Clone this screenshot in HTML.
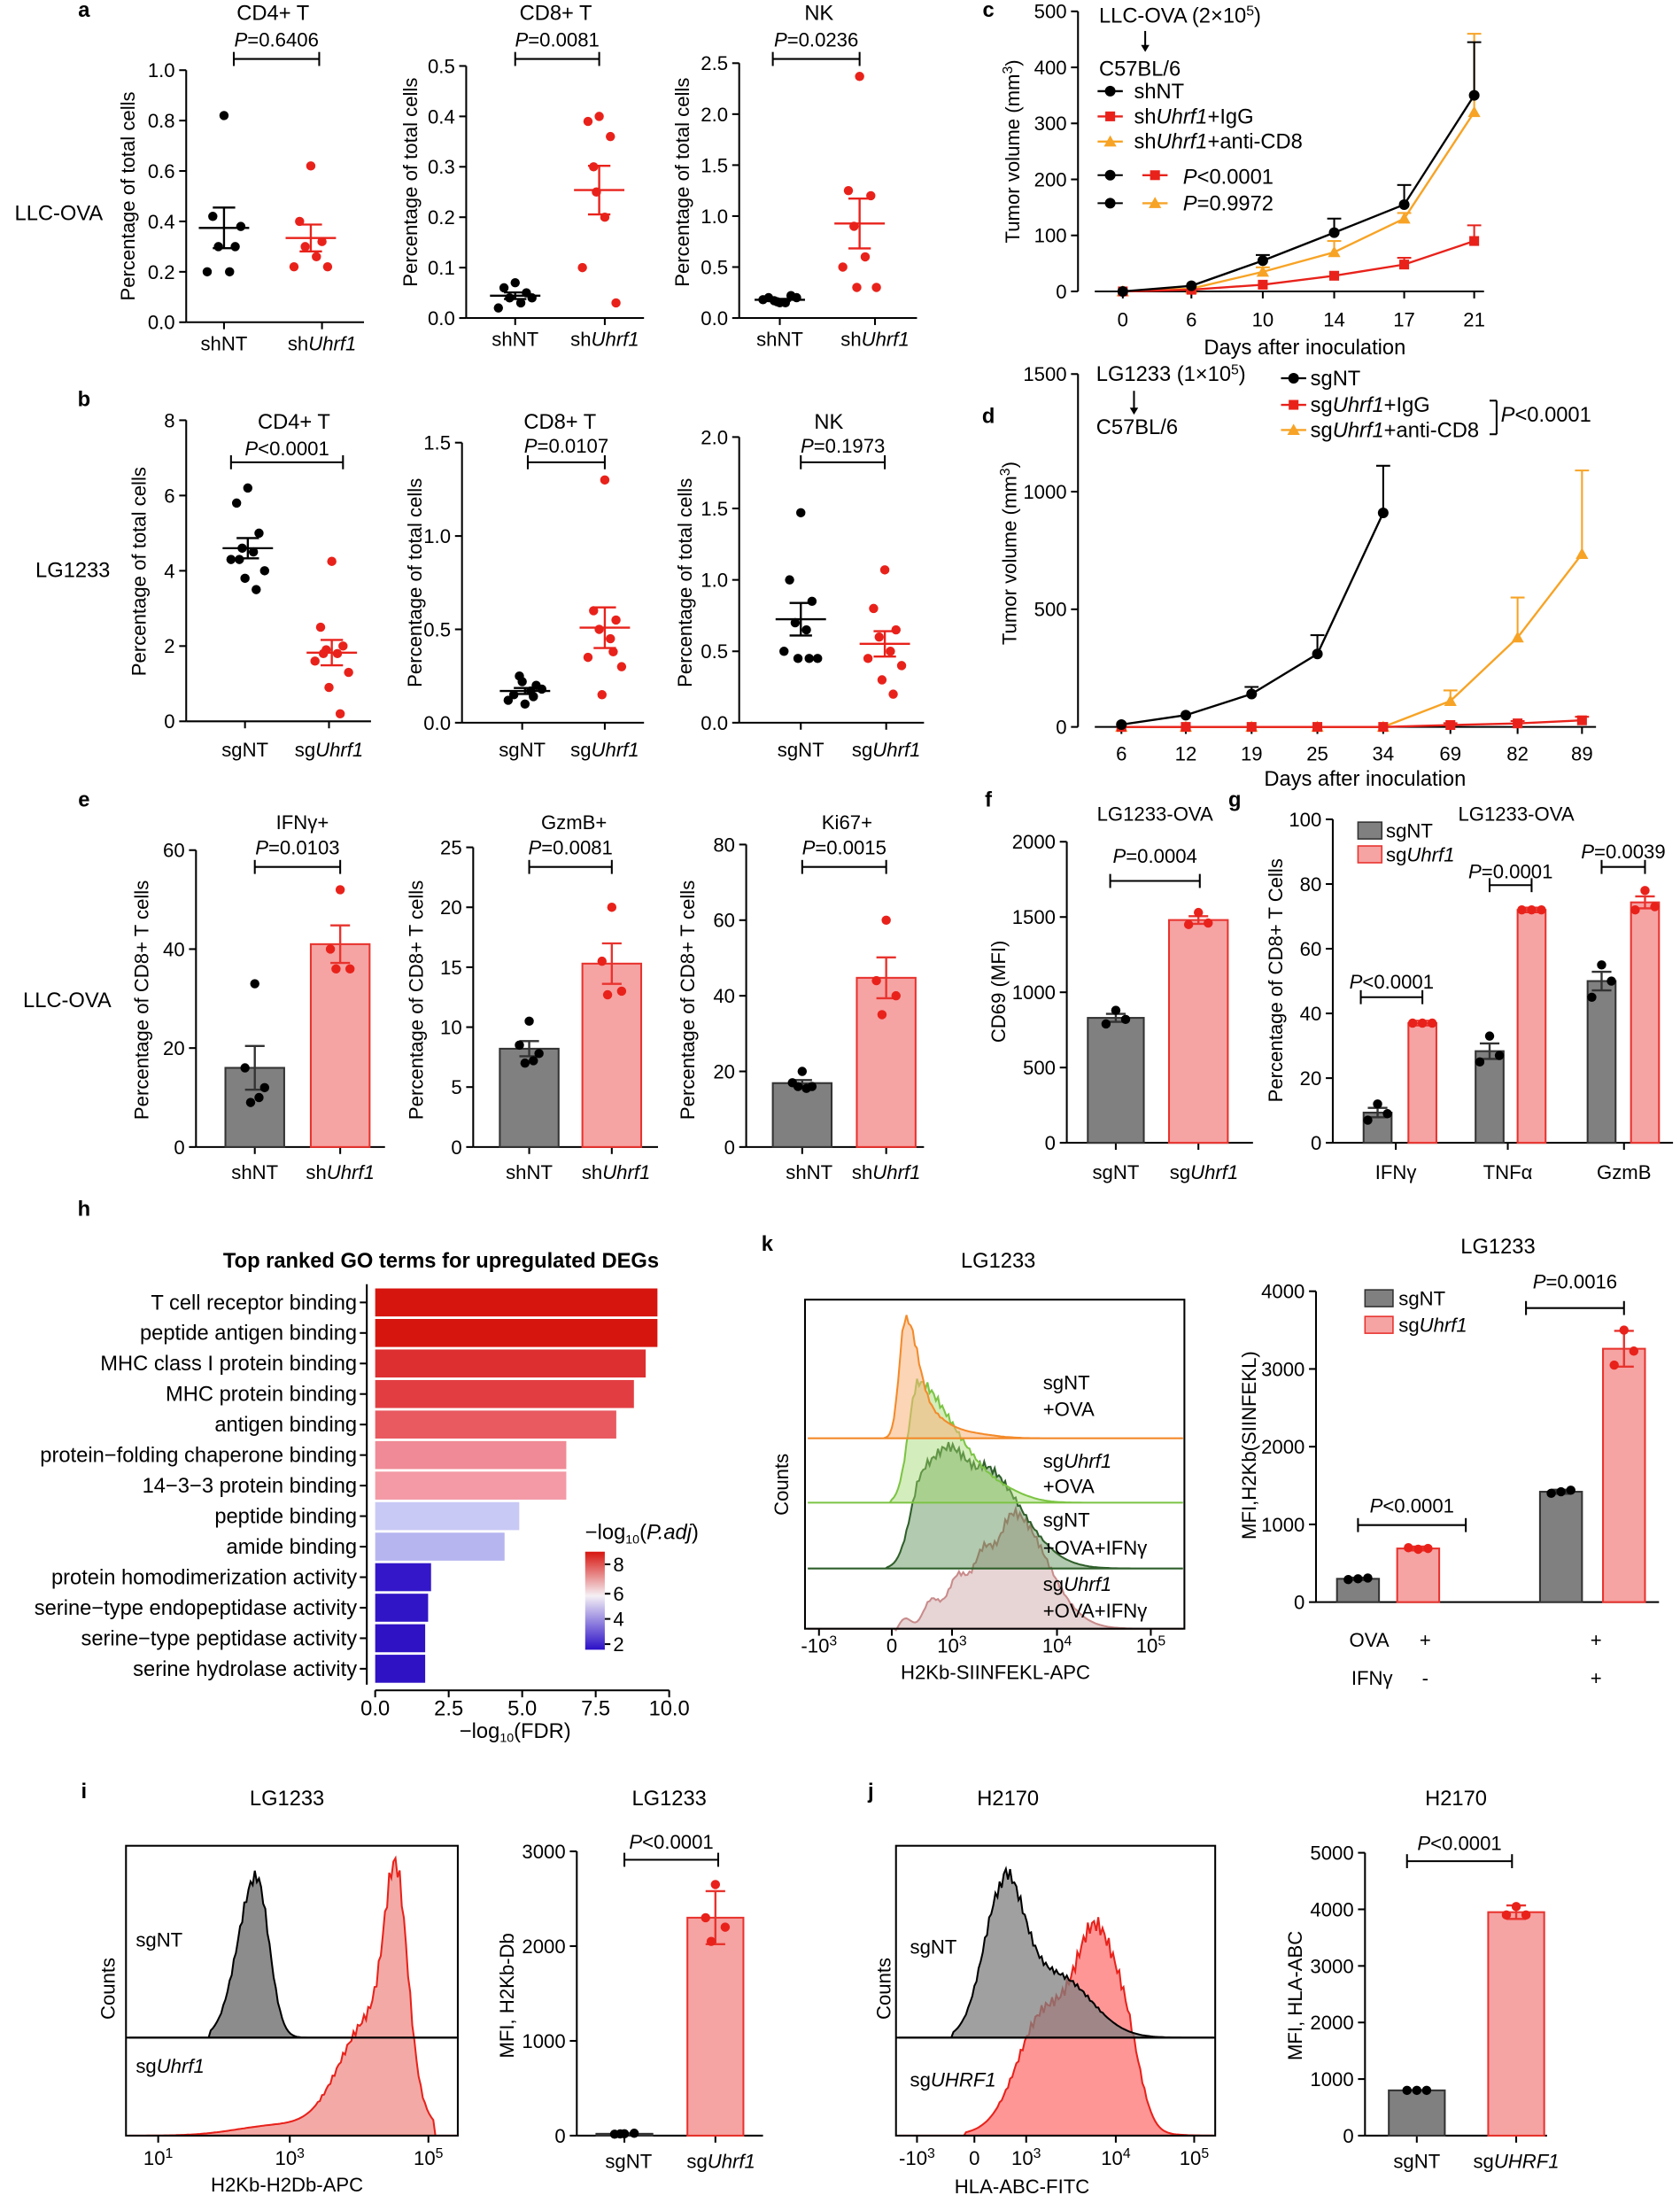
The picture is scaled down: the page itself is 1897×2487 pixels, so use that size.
<!DOCTYPE html>
<html><head><meta charset="utf-8"><style>
html,body{margin:0;padding:0;background:#fff}
svg{display:block}
text{font-family:"Liberation Sans",Arial,sans-serif;fill:#000}
</style></head><body>
<svg id="s" xmlns="http://www.w3.org/2000/svg" width="1897" height="2487" viewBox="0 0 1200 1573"></svg>
<script>
const o=[];
const I=s=>`<tspan font-style="italic">${s}</tspan>`;
function T(x,y,s,a='middle',fs=14,ex=''){o.push(`<text x="${x}" y="${y}" text-anchor="${a}" font-size="${fs}" ${ex}>${s}</text>`);}
function L(x1,y1,x2,y2,c='#000',w=1.3){o.push(`<line x1="${x1}" y1="${y1}" x2="${x2}" y2="${y2}" stroke="${c}" stroke-width="${w}"/>`);}
function YL(x,cy,s,fs=14){o.push(`<text transform="translate(${x},${cy}) rotate(-90)" text-anchor="middle" font-size="${fs}">${s}</text>`);}
function yax(x,yt,yb,labs){L(x,yt,x,yb);labs.forEach((l,i)=>{const y=yb-(yb-yt)*i/(labs.length-1);L(x-5,y,x,y);T(x-8,y+5,l,'end');});}
function xax(x1,x2,y,cats){L(x1,y,x2,y);cats.forEach(c=>L(c,y,c,y+5));}
function br(x1,x2,y,s,ty){L(x1,y,x2,y);L(x1,y-5,x1,y+5);L(x2,y-5,x2,y+5);T((x1+x2)/2,ty,s,'middle',14);}
function stat(v){const m=v.reduce((a,b)=>a+b,0)/v.length;const sd=Math.sqrt(v.reduce((a,b)=>a+(b-m)*(b-m),0)/(v.length-1));return [m,sd/Math.sqrt(v.length)];}
function dots(cx,vals,col,sc){vals.forEach((v,i)=>{const j=[0,-8,8,-4,4,-12,12,-2,6,-6][i%10];o.push(`<circle cx="${cx+j}" cy="${sc(v)}" r="3.3" fill="${col}"/>`);});
 const [m,se]=stat(vals);L(cx-18,sc(m),cx+18,sc(m),col,1.5);L(cx,sc(m-se),cx,sc(m+se),col,1.5);L(cx-8,sc(m-se),cx+8,sc(m-se),col,1.5);L(cx-8,sc(m+se),cx+8,sc(m+se),col,1.5);}
const lin=(y0,y1,v1)=>v=>y0-(y0-y1)*v/v1;
function bar(cx,w,vals,sc,gray,extra){const [m,se]=stat(vals);const e=extra!==undefined?extra:se;
 const f=gray?'#808080':'#f6a3a3',s=gray?'#333':'#e8332e',d=gray?'#000':'#e8221b';
 o.push(`<rect x="${cx-w/2}" y="${sc(m)}" width="${w}" height="${sc(0)-sc(m)}" fill="${f}" stroke="${s}" stroke-width="1.3"/>`);
 L(cx,sc(m-e),cx,sc(m+e),s,1.5);L(cx-7,sc(m+e),cx+7,sc(m+e),s,1.5);L(cx-7,sc(m-e),cx+7,sc(m-e),s,1.5);
 vals.forEach((v,i)=>{const j=[0,-7,7,-3,3][i%5];o.push(`<circle cx="${cx+j}" cy="${sc(v)}" r="3.3" fill="${d}"/>`);});}
const R='#e8221b';
[['a',60,12],['b',60,290],['c',706,12],['d',706,302],['e',60,576],['f',706,576],['g',882,576],['h',60,868],['k',548,893],['i',60,1284],['j',622,1284]].forEach(a=>T(a[1],a[2],a[0],'middle',15,'font-weight="bold"'));
// ===== a =====
let sc;
sc=lin(230,50,1);yax(133,50,230,['0.0','0.2','0.4','0.6','0.8','1.0']);xax(133,260,230,[160,230]);
T(160,250,'shNT');T(230,250,'sh'+I('Uhrf1'));T(195,14,'CD4+ T','middle',15);br(167,228,42,I('P')+'=0.6406',33);YL(96,140,'Percentage of total cells');T(42,157,'LLC-OVA','middle',15);
dots(160,[0.82,0.42,0.3,0.3,0.2,0.2,0.38],'#000',sc);dots(222,[0.62,0.4,0.32,0.3,0.26,0.22,0.22],R,sc);
sc=lin(227,47,0.5);yax(333,47,227,['0.0','0.1','0.2','0.3','0.4','0.5']);xax(333,460,227,[368,432]);
T(368,247,'shNT');T(432,247,'sh'+I('Uhrf1'));T(397,14,'CD8+ T','middle',15);br(368,428,42,I('P')+'=0.0081',33);YL(298,130,'Percentage of total cells');
dots(368,[0.07,0.06,0.05,0.04,0.03,0.02,0.04],'#000',sc);dots(428,[0.4,0.39,0.36,0.3,0.2,0.1,0.03,0.25],R,sc);
sc=lin(227,45,2.5);yax(528,45,227,['0.0','0.5','1.0','1.5','2.0','2.5']);xax(528,655,227,[557,625]);
T(557,247,'shNT');T(625,247,'sh'+I('Uhrf1'));T(585,14,'NK','middle',15);br(552,614,42,I('P')+'=0.0236',33);YL(492,130,'Percentage of total cells');
dots(557,[0.15,0.2,0.22,0.17,0.15,0.18,0.2,0.16],'#000',sc);dots(614,[2.37,1.25,1.2,0.9,0.6,0.5,0.3,0.3],R,sc);
// ===== b =====
sc=lin(515,300,8);yax(133,300,515,['0','2','4','6','8']);xax(133,265,515,[175,235]);
T(175,540,'sgNT');T(235,540,'sg'+I('Uhrf1'));T(210,306,'CD4+ T','middle',15);br(165,245,330,I('P')+'<0.0001',325);YL(104,408,'Percentage of total cells');T(52,412,'LG1233','middle',15);
dots(177,[6.2,5.8,5.0,4.6,4.5,4.3,4.0,3.8,3.5,4.3],'#000',sc);dots(237,[4.25,2.5,2.0,1.9,1.8,1.6,1.3,0.9,0.2,1.8],R,sc);
sc=lin(516,316,1.5);yax(330,316,516,['0.0','0.5','1.0','1.5']);xax(330,460,516,[373,432]);
T(373,540,'sgNT');T(432,540,'sg'+I('Uhrf1'));T(400,306,'CD8+ T','middle',15);br(377,432,330,I('P')+'=0.0107',323);YL(301,416,'Percentage of total cells');
dots(375,[0.1,0.15,0.2,0.25,0.17,0.12,0.18,0.22,0.14],'#000',sc);dots(432,[1.3,0.6,0.55,0.5,0.45,0.35,0.3,0.15,0.38],R,sc);
sc=lin(516,312,2.0);yax(528,312,516,['0.0','0.5','1.0','1.5','2.0']);xax(528,660,516,[572,633]);
T(572,540,'sgNT');T(633,540,'sg'+I('Uhrf1'));T(592,306,'NK','middle',15);br(572,632,330,I('P')+'=0.1973',323);YL(494,416,'Percentage of total cells');
dots(572,[1.47,1.0,0.85,0.7,0.65,0.5,0.45,0.45,0.45],'#000',sc);dots(632,[1.07,0.8,0.65,0.6,0.5,0.45,0.4,0.3,0.2],R,sc);
// ===== c =====
function mk(t,x,y){if(t==0)o.push(`<circle cx="${x}" cy="${y}" r="3.8" fill="#000"/>`);else if(t==1)o.push(`<rect x="${x-3.5}" y="${y-3.5}" width="7" height="7" fill="${R}"/>`);else o.push(`<polygon points="${x},${y-4.5} ${x+4.5},${y+3.5} ${x-4.5},${y+3.5}" fill="#f7a325"/>`);}
const C=['#000',R,'#f7a325'];
function series(t,xs,ys,es,sc){o.push(`<polyline fill="none" stroke="${C[t]}" stroke-width="1.5" points="${xs.map((x,i)=>x+','+sc(ys[i])).join(' ')}"/>`);
 xs.forEach((x,i)=>{if(es[i]){L(x,sc(ys[i]),x,sc(ys[i]+es[i]),C[t],1.3);L(x-5,sc(ys[i]+es[i]),x+5,sc(ys[i]+es[i]),C[t],1.3);}mk(t,x,ys[i]?sc(ys[i]):sc(0));});}
sc=lin(208,8,500);yax(770,8,208,['0','100','200','300','400','500']);
let xs=[802,851,902,953,1003,1053];xax(782,1060,208,xs);['0','6','10','14','17','21'].forEach((l,i)=>T(xs[i],233,l));
T(932,253,'Days after inoculation','middle',15);YL(728,108,'Tumor volume (mm<tspan dy="-5" font-size="10">3</tspan><tspan dy="5">)</tspan>');
series(2,xs,[0,5,35,70,130,320],[0,0,8,20,10,140],sc);series(1,xs,[0,3,12,28,48,90],[0,0,0,0,12,28],sc);series(0,xs,[0,10,55,105,155,350],[0,0,10,25,35,95],sc);
T(785,16,'LLC-OVA (2×10<tspan dy="-5" font-size="10">5</tspan><tspan dy="5">)</tspan>','start',15);L(818,22,818,36);o.push('<polygon points="815,32 821,32 818,37"/>');T(785,54,'C57BL/6','start',15);
[[0,'shNT',70],[1,'sh'+I('Uhrf1')+'+IgG',88],[2,'sh'+I('Uhrf1')+'+anti-CD8',106]].forEach(a=>{L(784,a[2]-5,802,a[2]-5,C[a[0]],1.5);mk(a[0],793,a[2]-5);T(810,a[2],a[1],'start',15);});
L(784,125,802,125);mk(0,793,125);L(816,125,834,125,R,1.5);mk(1,825,125);T(845,131,I('P')+'<0.0001','start',15);
L(784,145,802,145);mk(0,793,145);L(816,145,834,145,C[2],1.5);mk(2,825,145);T(845,150,I('P')+'=0.9972','start',15);
// ===== d =====
sc=lin(519,267,1500);yax(770,267,519,['0','500','1000','1500']);
xs=[801,847,894,941,988,1036,1084,1130];xax(782,1140,519,xs);['6','12','19','25','34','69','82','89'].forEach((l,i)=>T(xs[i],543,l));
T(975,561,'Days after inoculation','middle',15);YL(726,395,'Tumor volume (mm<tspan dy="-5" font-size="10">3</tspan><tspan dy="5">)</tspan>');
series(2,xs,[0,0,0,0,0,110,380,735],[0,0,0,0,0,45,170,355],sc);series(1,xs,[0,0,0,0,0,8,15,28],[0,0,0,0,0,8,10,15],sc);series(0,xs.slice(0,5),[10,50,140,310,910],[0,0,30,80,200],sc);
T(783,272,'LG1233 (1×10<tspan dy="-5" font-size="10">5</tspan><tspan dy="5">)</tspan>','start',15);L(810,279,810,295);o.push('<polygon points="807,291 813,291 810,296"/>');T(783,310,'C57BL/6','start',15);
[[0,'sgNT',275],[1,'sg'+I('Uhrf1')+'+IgG',294],[2,'sg'+I('Uhrf1')+'+anti-CD8',312]].forEach(a=>{L(915,a[2]-5,933,a[2]-5,C[a[0]],1.5);mk(a[0],924,a[2]-5);T(936,a[2],a[1],'start',15);});
L(1064,286,1069,286);L(1069,286,1069,310);L(1064,310,1069,310);T(1072,301,I('P')+'<0.0001','start',15);
// ===== e =====
sc=lin(819,607,60);yax(140,607,819,['0','20','40','60']);xax(140,275,819,[182,243]);
T(182,842,'shNT');T(243,842,'sh'+I('Uhrf1'));T(216,592,'IFNγ+');br(182,243,619,I('P')+'=0.0103',610);YL(106,714,'Percentage of CD8+ T cells');T(48,719,'LLC-OVA','middle',15);
bar(182,42,[33,16,12,9,10],sc,1);bar(243,42,[52,40,36,36],sc,0);
sc=lin(819,605,25);yax(338,605,819,['0','5','10','15','20','25']);xax(338,470,819,[378,437]);
T(378,842,'shNT');T(440,842,'sh'+I('Uhrf1'));T(410,592,'GzmB+');br(378,437,619,I('P')+'=0.0081',610);YL(302,714,'Percentage of CD8+ T cells');
bar(378,42,[10.5,8.5,7.8,7,7.2],sc,1);bar(437,42,[20,15.5,13,12.7],sc,0);
sc=lin(819,603,80);yax(533,603,819,['0','20','40','60','80']);xax(533,660,819,[573,633]);
T(578,842,'shNT');T(633,842,'sh'+I('Uhrf1'));T(605,592,'Ki67+');br(573,633,619,I('P')+'=0.0015',610);YL(496,714,'Percentage of CD8+ T cells');
bar(573,42,[20,17,16,16,15.5],sc,1);bar(633,42,[60,44,40,35],sc,0);
// ===== f =====
sc=lin(816,601,2000);yax(762,601,816,['0','500','1000','1500','2000']);xax(762,895,816,[797,856]);
T(797,842,'sgNT');T(860,842,'sg'+I('Uhrf1'));T(825,586,'LG1233-OVA');br(793,857,629,I('P')+'=0.0004',616);YL(718,708,'CD69 (MFI)');
bar(797,40,[880,790,820],sc,1);bar(856,42,[1530,1450,1460],sc,0);
// ===== g =====
sc=lin(816,585,100);yax(952,585,816,['0','20','40','60','80','100']);xax(952,1195,816,[997,1077,1160]);
T(997,842,'IFNγ');T(1077,842,'TNFα');T(1160,842,'GzmB');YL(916,700,'Percentage of CD8+ T Cells');T(1083,586,'LG1233-OVA');
bar(984,20,[12,7,9],sc,1);bar(1016,20,[37,37,37],sc,0,0.7);bar(1064,20,[33,25,27],sc,1);bar(1094,20,[72,72,72],sc,0,0.7);bar(1144,20,[55,45,50],sc,1);bar(1175,20,[78,72,73],sc,0);
o.push('<rect x="970" y="587" width="17" height="12" fill="#808080" stroke="#333"/><rect x="970" y="604" width="17" height="12" fill="#f6a3a3" stroke="#e8332e"/>');T(990,598,'sgNT','start');T(990,615,'sg'+I('Uhrf1'),'start');
br(972,1016,712,I('P')+'<0.0001',706);br(1064,1094,632,I('P')+'=0.0001',627);br(1144,1175,619,I('P')+'=0.0039',613);
// ===== h =====
T(315,905,'Top ranked GO terms for upregulated DEGs','middle',15,'font-weight="bold"');
const gl=['T cell receptor binding','peptide antigen binding','MHC class I protein binding','MHC protein binding','antigen binding','protein−folding chaperone binding','14−3−3 protein binding','peptide binding','amide binding','protein homodimerization activity','serine−type endopeptidase activity','serine−type peptidase activity','serine hydrolase activity'];
const gv=[9.6,9.6,9.2,8.8,8.2,6.5,6.5,4.9,4.4,1.9,1.8,1.7,1.7];
const gc=['#d7150f','#d7150f','#dd2e30','#e23e42','#e85a60','#f08a96','#f39aa6','#c9c9f5','#b7b5f0','#3317c9','#3015c6','#2e12c4','#2e12c4'];
L(262,917,262,1203);
gl.forEach((l,i)=>{const y=930+i*21.8;o.push(`<rect x="268" y="${y-10}" width="${gv[i]*21}" height="20" fill="${gc[i]}"/>`);L(257,y,262,y);T(255,y+5,l,'end',15);});
L(268,1207,478,1207);[0,2.5,5,7.5,10].forEach(v=>{L(268+v*21,1207,268+v*21,1212);T(268+v*21,1225,v.toFixed(1),'middle',15);});
T(368,1241,'−log<tspan font-size="9" dy="3">10</tspan><tspan dy="-3">(FDR)</tspan>','middle',15,'font-family="Liberation Serif"');
o.push('<defs><linearGradient id="cb" x1="0" y1="0" x2="0" y2="1"><stop offset="0" stop-color="#d7150f"/><stop offset="0.45" stop-color="#f5f0f5"/><stop offset="1" stop-color="#2a0fc7"/></linearGradient></defs><rect x="418" y="1108" width="14" height="70" fill="url(#cb)"/>');
T(418,1099,'−log<tspan font-size="9" dy="3">10</tspan><tspan dy="-3">(</tspan><tspan font-style="italic">P.adj</tspan>)','start',15,'font-family="Liberation Serif"');
[['8',1122],['6',1143],['4',1161],['2',1179]].forEach(a=>{L(432,a[1]-5,436,a[1]-5);T(438,a[1],a[0],'start',14);});
// ===== histograms =====
function g(x,c,s){return Math.exp(-0.5*((x-c)/s)**2);}
function hist(x0,x1,base,h,fn,fill,stroke,op){let p=`M${x0},${base}`;for(let x=x0;x<=x1;x+=1.5){let n=fn(x);n+=n>0.15?0.04*Math.sin(x*1.7)*n:0;p+=` L${x.toFixed(1)},${(base-h*n).toFixed(1)}`;}p+=` L${x1},${base} Z`;o.push(`<path d="${p}" fill="${fill}" fill-opacity="${op}" stroke="${stroke}" stroke-width="1.3"/>`);}
// k
T(713,905,'LG1233','middle',15);
hist(577,845,1163,83,x=>x<639?0:(x<723?Math.pow((x-639)/84,1.3)*0.95+0.05*Math.sin(x/3):g(x,723,24)),'#caa0a0','#c98b8b',0.45);
hist(577,845,1120,87,x=>x<634?0:(x<660?g(x,660,9)*0.8:(x<700?0.8+0.2*g(x,678,10):0.85*g(x,700,28))),'#3f7a36','#2f5f2a',0.4);
hist(577,845,1073,86,x=>x<636?0:(x<656?g(x,656,7):0.9*g(x,656,30)+0.1*g(x,656,10)+0.04*g(x,720,15)),'#9fd86b','#7cc444',0.45);
hist(577,845,1027,87,x=>x<632?0:(x<647?g(x,647,4.5):0.75*g(x,647,8)+0.25*g(x,655,16)+0.04*g(x,690,18)),'#f8b27a','#f48a2a',0.55);
o.push('<rect x="575" y="928" width="271" height="235" fill="none" stroke="#000" stroke-width="1.3"/>');
T(745,992,'sgNT','start');T(745,1011,'+OVA','start');T(745,1048,'sg'+I('Uhrf1'),'start');T(745,1066,'+OVA','start');T(745,1090,'sgNT','start');T(745,1110,'+OVA+IFNγ','start');T(745,1136,'sg'+I('Uhrf1'),'start');T(745,1155,'+OVA+IFNγ','start');
YL(563,1060,'Counts');
[[585,'-10<tspan dy="-5" font-size="10">3</tspan>'],[637,'0'],[680,'10<tspan dy="-5" font-size="10">3</tspan>'],[755,'10<tspan dy="-5" font-size="10">4</tspan>'],[822,'10<tspan dy="-5" font-size="10">5</tspan>']].forEach(a=>{L(a[0],1163,a[0],1168);T(a[0],1180,a[1]);});
T(711,1199,'H2Kb-SIINFEKL-APC');
// k bars
sc=lin(1144,922,4000);yax(940,922,1144,['0','1000','2000','3000','4000']);L(940,1144,1185,1144);
bar(970,30,[300,290,310],sc,1,15);bar(1013,30,[680,700,690],sc,0,25);bar(1115,30,[1420,1400,1440],sc,1,25);bar(1160,30,[3500,3050,3230],sc,0,230);
T(1070,895,'LG1233','middle',15);br(970,1047,1089,I('P')+'<0.0001',1080);br(1090,1160,934,I('P')+'=0.0016',920);
o.push('<rect x="975" y="921" width="20" height="12" fill="#808080" stroke="#333"/><rect x="975" y="940" width="20" height="12" fill="#f6a3a3" stroke="#e8332e"/>');T(999,932,'sgNT','start');T(999,951,'sg'+I('Uhrf1'),'start');
YL(897,1032,'MFI,H2Kb(SIINFEKL)');
T(978,1176,'OVA','middle');T(1018,1176,'+');T(1140,1176,'+');T(980,1203,'IFNγ');T(1018,1203,'-');T(1140,1203,'+');
// i
T(205,1289,'LG1233','middle',15);
hist(92,326,1455,115,x=>x<150?0:(x<183?g(x,183,13):g(x,183,9)),'#808080','#000',0.9);
hist(92,326,1525,150,x=>x>310?0:(0.55*g(x,265,22)+0.9*g(x,283,8)+0.05*g(x,200,30)),'#e8554e','#e8221b',0.5);
o.push('<rect x="90" y="1318" width="237" height="207" fill="none" stroke="#000" stroke-width="1.3"/>');L(90,1455,327,1455);
T(97,1390,'sgNT','start');T(97,1480,'sg'+I('Uhrf1'),'start');YL(82,1420,'Counts');
[[113,'10<tspan dy="-5" font-size="10">1</tspan>'],[207,'10<tspan dy="-5" font-size="10">3</tspan>'],[306,'10<tspan dy="-5" font-size="10">5</tspan>']].forEach(a=>{L(a[0],1525,a[0],1530);T(a[0],1546,a[1]);});
T(205,1565,'H2Kb-H2Db-APC');
sc=lin(1525,1322,3000);yax(412,1322,1525,['0','1000','2000','3000']);xax(412,545,1525,[446,511]);
T(449,1548,'sgNT');T(515,1548,'sg'+I('Uhrf1'));T(478,1289,'LG1233','middle',15);br(446,513,1328,I('P')+'<0.0001',1320);YL(367,1425,'MFI, H2Kb-Db');
bar(446,40,[20,15,25,18],sc,1,5);bar(511,40,[2650,2300,2200,2050],sc,0,280);
// j
T(720,1289,'H2170','middle',15);
hist(642,867,1525,140,x=>x<690?0:(0.45*g(x,745,18)+0.85*g(x,783,14)+0.35*g(x,805,10)+0.2*g(x,760,30)),'#ff6a6a','#e8221b',0.7);
hist(642,867,1455,110,x=>x<680?0:(x<717?g(x,717,14):0.95*g(x,717,14)+0.4*g(x,755,24)),'#808080','#000',0.75);
o.push('<rect x="640" y="1318" width="228" height="207" fill="none" stroke="#000" stroke-width="1.3"/>');L(640,1455,868,1455);
T(650,1395,'sgNT','start');T(650,1490,'sg'+I('UHRF1'),'start');YL(636,1420,'Counts');
[[655,'-10<tspan dy="-5" font-size="10">3</tspan>'],[696,'0'],[733,'10<tspan dy="-5" font-size="10">3</tspan>'],[797,'10<tspan dy="-5" font-size="10">4</tspan>'],[853,'10<tspan dy="-5" font-size="10">5</tspan>']].forEach(a=>{L(a[0],1525,a[0],1530);T(a[0],1546,a[1]);});
T(730,1566,'HLA-ABC-FITC');
sc=lin(1525,1323,5000);yax(975,1323,1525,['0','1000','2000','3000','4000','5000']);xax(975,1105,1525,[1012,1083]);
T(1012,1548,'sgNT');T(1083,1548,'sg'+I('UHRF1'));T(1040,1289,'H2170','middle',15);br(1005,1080,1329,I('P')+'<0.0001',1321);YL(930,1425,'MFI, HLA-ABC');
bar(1012,40,[800,800,800],sc,1,5);bar(1083,40,[4050,3900,3900],sc,0,120);
document.getElementById('s').innerHTML=o.join('');
</script>
</body></html>
